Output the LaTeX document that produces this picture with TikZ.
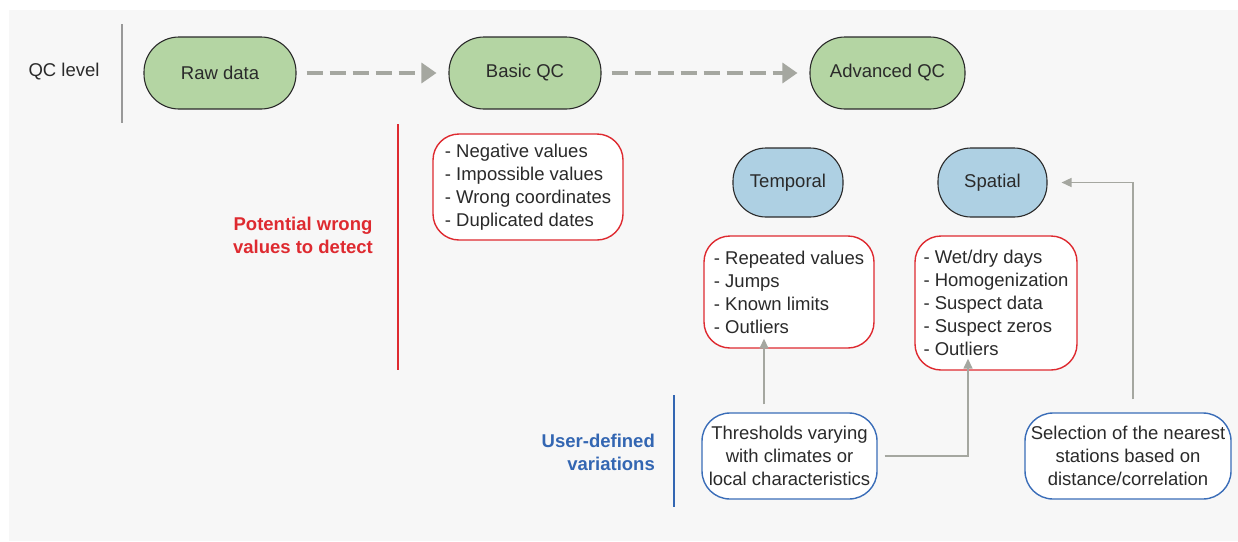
\documentclass[tikz,border=0pt]{standalone}
\usepackage{fontspec}
\setmainfont{Liberation Sans}
\usetikzlibrary{arrows.meta,calc}
\definecolor{bg}{HTML}{F7F7F7}
\definecolor{qcgreen}{HTML}{B4D5A3}
\definecolor{tsblue}{HTML}{AED0E3}
\definecolor{wred}{HTML}{DE2A30}
\definecolor{ublue}{HTML}{3366B2}
\definecolor{bblue}{HTML}{3A6DB8}
\definecolor{arrgray}{HTML}{A5A7A0}
\definecolor{ink}{HTML}{2A2A2A}
\tikzset{
  txt/.style={font=\fontsize{18.5}{23}\selectfont, text=ink},
  qcbox/.style={txt, draw=ink, line width=1.1pt, fill=qcgreen, minimum height=72pt, rounded corners=35pt, inner sep=0pt},
  dimbox/.style={txt, draw=ink, line width=1.1pt, fill=tsblue, minimum height=69pt, rounded corners=33pt, inner sep=0pt},
  listbox/.style={txt, draw=wred, line width=1.4pt, fill=white, rounded corners=26pt, align=left, inner sep=0pt},
  userbox/.style={txt, draw=bblue, line width=1.4pt, fill=white, rounded corners=28pt, align=center, inner sep=0pt, minimum height=86pt},
  flowarrow/.style={draw=arrgray, line width=3.2pt, dash pattern=on 16pt off 7pt, -{Triangle[length=15pt,width=20pt]}, shorten <=10pt, shorten >=12pt},
  linkarrow/.style={draw=arrgray, line width=1.5pt, -{Triangle[length=10pt,width=9pt]}},
  sep/.style={line width=1.3pt},
  lab/.style={txt, inner sep=0pt}
}
\begin{document}
\begin{tikzpicture}[x=1pt,y=-1pt]
\useasboundingbox (0,0) rectangle (1238,541);
\fill[bg] (9,10) rectangle (1238,541);

% separators
\draw[sep, draw=gray!80] (122,24) -- (122,123);
\draw[sep, draw=wred] (398,124) -- (398,370);
\draw[sep, draw=ublue] (674,395) -- (674,507);

% row labels
\node[lab] (qclevel) at (64,72) {QC level};
\node[lab, font=\fontsize{18.5}{23}\selectfont\bfseries, text=wred, align=center] (potential) at (303,235) {Potential wrong\\values to detect};
\node[lab, font=\fontsize{18.5}{23}\selectfont\bfseries, text=ublue, align=right, anchor=east] (userdef) at (655,452) {User-defined\\variations};

% QC levels
\node[qcbox, minimum width=152pt] (raw) at (220,73) {Raw data};
\node[qcbox, minimum width=152pt] (basic) at (525,73) {Basic QC};
\node[qcbox, minimum width=155pt] (adv) at (887.5,73) {Advanced QC};

\draw[flowarrow] (raw) -- (basic);
\draw[flowarrow] (basic) -- (adv);

% basic QC list
\node[listbox, minimum width=190pt, minimum height=106pt] (blist) at (528,187) {- Negative values\\- Impossible values\\- Wrong coordinates\\- Duplicated dates};

% advanced QC dimensions
\node[dimbox, minimum width=110pt] (temporal) at (788,182.5) {Temporal};
\node[dimbox, minimum width=109pt] (spatial) at (992.5,182.5) {Spatial};

\node[listbox, minimum width=170pt, minimum height=112pt] (tlist) at (789,292) {- Repeated values\\- Jumps\\- Known limits\\- Outliers};
\node[listbox, minimum width=162pt, minimum height=134pt] (slist) at (996,303) {- Wet/dry days\\- Homogenization\\- Suspect data\\- Suspect zeros\\- Outliers};

% user-defined variations
\node[userbox, minimum width=175pt] (thr) at (789.5,456) {Thresholds varying\\with climates or\\local characteristics};
\node[userbox, minimum width=206pt] (sel) at (1128,456) {Selection of the nearest\\stations based on\\distance/correlation};

% links
\draw[linkarrow, shorten <=8pt, shorten >=-10pt] ([xshift=-25.5pt]thr.north) -- ([xshift=-25pt]tlist.south);
\draw[linkarrow, shorten <=7pt, shorten >=-12pt] (thr.east) -| ([xshift=-28pt]slist.south);
\draw[linkarrow, shorten <=13pt, shorten >=14pt] ([xshift=5pt]sel.north) |- (spatial.east);
\end{tikzpicture}
\end{document}
